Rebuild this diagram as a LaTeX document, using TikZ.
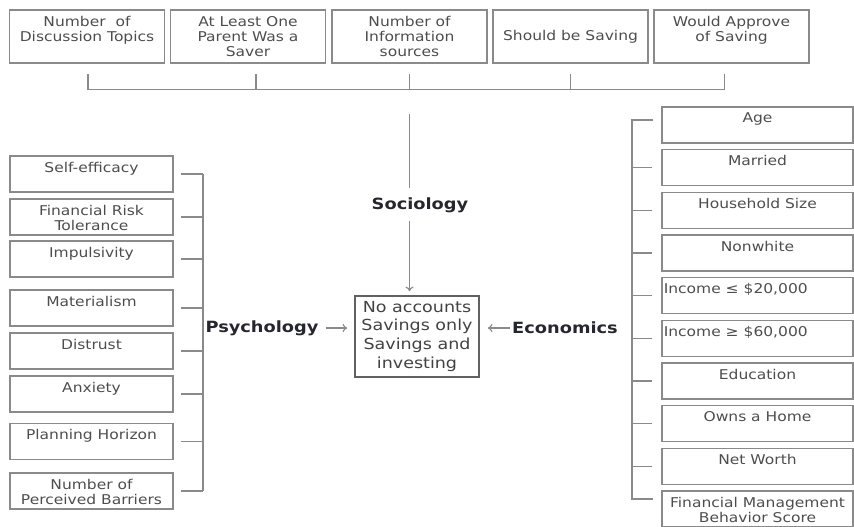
\documentclass[tikz,border=0pt]{standalone}
\usepackage{fontspec}
\setmainfont[FakeStretch=1.15]{DejaVu Sans}
\usetikzlibrary{arrows.meta}
\definecolor{boxc}{HTML}{8A8A8A}
\definecolor{txtc}{HTML}{4D4D4D}
\definecolor{lblc}{HTML}{26262E}
\begin{document}
\begin{tikzpicture}[x=0.03cm, y=-0.03cm,
  every node/.style={text=txtc, align=center, font=\fontsize{11.5}{12.8}\selectfont},
  box/.style={draw=boxc, line width=1.3pt, inner sep=0pt},
  tbox/.style={box, minimum width=4.65cm, minimum height=1.59cm},
  lbox/.style={box, minimum width=4.89cm, minimum height=1.08cm},
  rbox/.style={box, minimum width=5.73cm, minimum height=1.08cm},
  intop/.style={label={[inner sep=0pt, anchor=north, yshift=-5.5pt]north:{#1}}},
  inleft/.style={label={[inner sep=0pt, anchor=north west, xshift=2pt, yshift=-5.5pt]north west:{#1}}},
  lbl/.style={inner sep=0pt, text=lblc, font=\fontsize{13.2}{15}\selectfont\bfseries},
  link/.style={draw=boxc, line width=1pt},
  arr/.style={link, -{To[length=4pt,width=7pt]}}]
\useasboundingbox (0,0) rectangle (854,527);
% sociology
\node[tbox, intop={Number\ \ of\\Discussion Topics}] (t1) at (87,36.5) {};
\node[tbox] (t2) at (248,36.5) {At Least One\\Parent Was a\\Saver};
\node[tbox] (t3) at (409.5,36.5) {Number of\\Information\\sources};
\node[tbox] (t4) at (570.5,36.5) {Should be Saving};
\node[tbox, intop={Would Approve\\of Saving}] (t5) at (731.5,36.5) {};
\foreach \b/\dx in {t1/1,t2/8,t3/0,t4/0,t5/-7}
  \draw[link] ([shift={(\dx,10)}]\b.south) -- ++(0,16);
\draw[link] ([shift={(1,26)}]t1.south) -- ([shift={(-7,26)}]t5.south);
\node[lbl] (soc) at (420,205) {Sociology};
\draw[link, shorten >=0.27cm] ([yshift=-1.5cm]t3.south) -- (soc.north -| t3.south);
% outcome
\node[box, draw=boxc!70!black, text=txtc!85!black, minimum width=3.72cm, minimum height=2.43cm,
  font=\fontsize{13}{16.2}\selectfont] (out) at (417,336.5) {No accounts\\Savings only\\Savings and\\investing};
\draw[arr, shorten <=0.24cm, shorten >=0.12cm] (soc.south -| t3.south) -- (out.north -| t3.south);
% psychology
\node[lbox, intop=Self-efficacy] (p1) at (91.5,174) {};
\node[lbox, intop={Financial Risk\\Tolerance}] (p2) at (91.5,217) {};
\node[lbox, intop=Impulsivity] (p3) at (91.5,259) {};
\node[lbox, intop=Materialism] (p4) at (91.5,308) {};
\node[lbox, intop=Distrust] (p5) at (91.5,351) {};
\node[lbox, intop=Anxiety] (p6) at (91.5,394) {};
\node[lbox, intop=Planning Horizon] (p7) at (91.5,441.5) {};
\node[lbox, intop={Number of\\Perceived Barriers}] (p8) at (91.5,491) {};
\coordinate (pk) at (203,0);
\foreach \i in {1,...,8}
  \draw[link] ([xshift=0.21cm]p\i.east) -- (p\i.east -| pk);
\draw[link] (p1.east -| pk) -- (p8.east -| pk);
\node[lbl] (psy) at (262,328) {Psychology};
\draw[arr, shorten <=0.21cm, shorten >=0.21cm] (psy.east) -- (psy.east -| out.west);
% economics
\node[rbox, intop=Age] (e1) at (757.5,125) {};
\node[rbox, intop=Married] (e2) at (757.5,167.7) {};
\node[rbox, intop=Household Size] (e3) at (757.5,210.3) {};
\node[rbox, intop=Nonwhite] (e4) at (757.5,253) {};
\node[rbox, inleft={Income ≤ \$20,000}] (e5) at (757.5,295.7) {};
\node[rbox, inleft={Income ≥ \$60,000}] (e6) at (757.5,338.3) {};
\node[rbox, intop=Education] (e7) at (757.5,381) {};
\node[rbox, intop=Owns a Home] (e8) at (757.5,423.7) {};
\node[rbox, intop=Net Worth] (e9) at (757.5,466.3) {};
\node[rbox, intop={Financial Management\\Behavior Score}] (e10) at (757.5,509) {};
\coordinate (ek) at (632,0);
\coordinate (etop) at ([yshift=0.15cm]e1.west -| ek);
\coordinate (ebot) at ([yshift=0.3cm]e10.west -| ek);
\draw[link] ([xshift=0.63cm]etop) -- (etop) -- (ebot) -- ([xshift=0.63cm]ebot);
\foreach \i in {2,...,9}
  \draw[link] (e\i.west -| ek) -- ([xshift=-0.27cm]e\i.west);
\node[lbl] (eco) at (565,328) {Economics};
\draw[arr, shorten <=0.06cm, shorten >=0.24cm] (eco.west) -- (eco.west -| out.east);
\end{tikzpicture}
\end{document}
